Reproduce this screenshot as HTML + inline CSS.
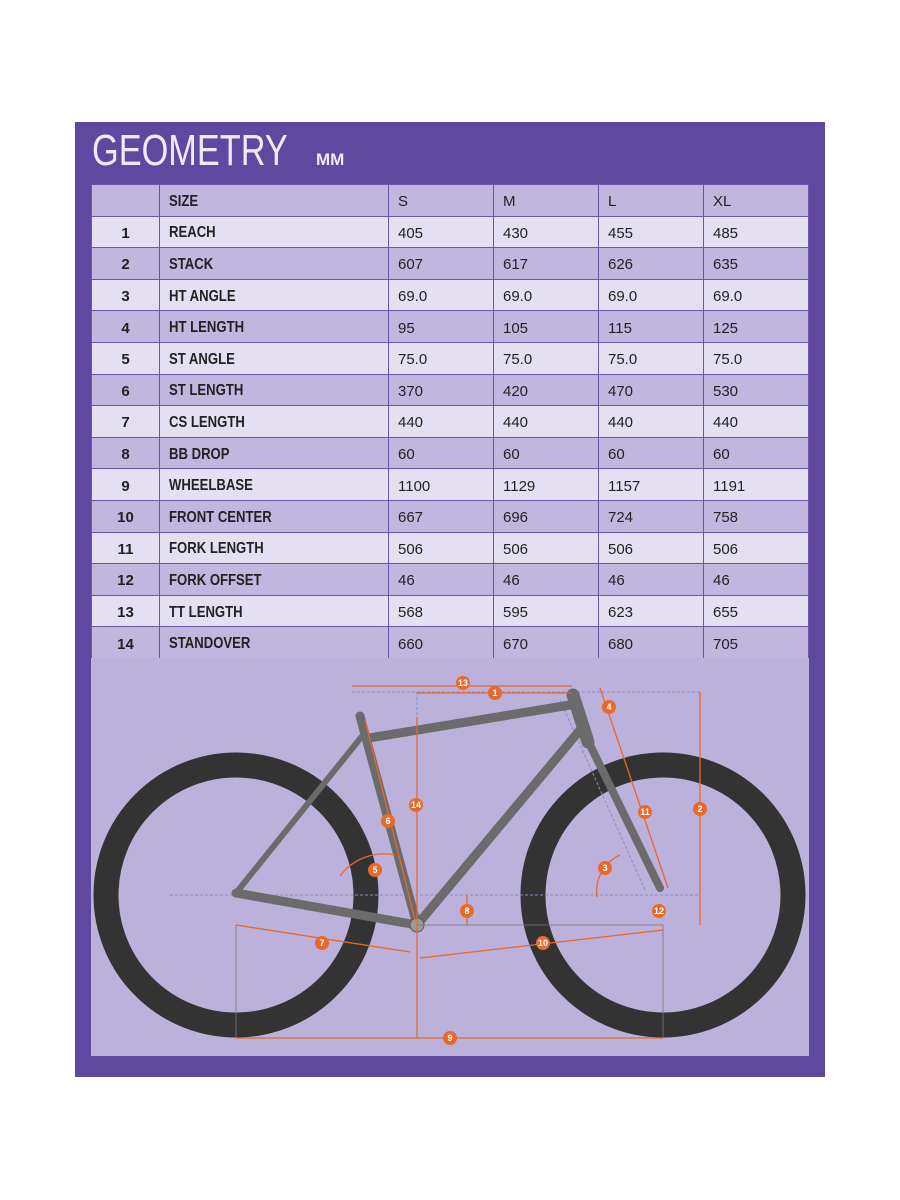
<!DOCTYPE html>
<html><head><meta charset="utf-8"><style>
body{margin:0;background:#fff;width:900px;height:1200px;position:relative;font-family:"Liberation Sans",sans-serif}
#panel{position:absolute;left:75px;top:122px;width:750px;height:955px;background:#5f49a0}
#title{position:absolute;left:92px;top:126px;color:#eee9f7;font-size:44px;transform:scaleX(0.78);transform-origin:0 0;font-weight:normal}
#mm{position:absolute;left:316px;top:150px;color:#eee9f7;font-size:17px;font-weight:bold}
table{position:absolute;left:91px;top:184px;width:718px;border-collapse:collapse;font-size:15px;color:#222}
td{height:31.6px;border:1px solid #6a55ab;padding:3px 0 0 9px;vertical-align:middle;box-sizing:border-box}
tr:nth-child(odd) td{background:#c1b6dd}
tr:nth-child(even) td{background:#e4e0f1}
td.n{text-align:center;padding:3px 0 0 0;font-weight:bold;width:68px}
td.l{font-weight:bold;width:229px;font-size:16px}
td.l span{display:inline-block;transform:scaleX(0.82);transform-origin:0 50%}
td.v{width:105px}
svg{position:absolute;left:91px;top:658px}
</style></head><body>
<div id="panel"></div>
<div id="title">GEOMETRY</div><div id="mm">MM</div>
<table>
<tr><td class="n"></td><td class="l"><span>SIZE</span></td><td class="v">S</td><td class="v">M</td><td class="v">L</td><td class="v">XL</td></tr>
<tr><td class="n">1</td><td class="l"><span>REACH</span></td><td>405</td><td>430</td><td>455</td><td>485</td></tr>
<tr><td class="n">2</td><td class="l"><span>STACK</span></td><td>607</td><td>617</td><td>626</td><td>635</td></tr>
<tr><td class="n">3</td><td class="l"><span>HT ANGLE</span></td><td>69.0</td><td>69.0</td><td>69.0</td><td>69.0</td></tr>
<tr><td class="n">4</td><td class="l"><span>HT LENGTH</span></td><td>95</td><td>105</td><td>115</td><td>125</td></tr>
<tr><td class="n">5</td><td class="l"><span>ST ANGLE</span></td><td>75.0</td><td>75.0</td><td>75.0</td><td>75.0</td></tr>
<tr><td class="n">6</td><td class="l"><span>ST LENGTH</span></td><td>370</td><td>420</td><td>470</td><td>530</td></tr>
<tr><td class="n">7</td><td class="l"><span>CS LENGTH</span></td><td>440</td><td>440</td><td>440</td><td>440</td></tr>
<tr><td class="n">8</td><td class="l"><span>BB DROP</span></td><td>60</td><td>60</td><td>60</td><td>60</td></tr>
<tr><td class="n">9</td><td class="l"><span>WHEELBASE</span></td><td>1100</td><td>1129</td><td>1157</td><td>1191</td></tr>
<tr><td class="n">10</td><td class="l"><span>FRONT CENTER</span></td><td>667</td><td>696</td><td>724</td><td>758</td></tr>
<tr><td class="n">11</td><td class="l"><span>FORK LENGTH</span></td><td>506</td><td>506</td><td>506</td><td>506</td></tr>
<tr><td class="n">12</td><td class="l"><span>FORK OFFSET</span></td><td>46</td><td>46</td><td>46</td><td>46</td></tr>
<tr><td class="n">13</td><td class="l"><span>TT LENGTH</span></td><td>568</td><td>595</td><td>623</td><td>655</td></tr>
<tr><td class="n">14</td><td class="l"><span>STANDOVER</span></td><td>660</td><td>670</td><td>680</td><td>705</td></tr>
</table>
<svg width="718" height="398" viewBox="91 658 718 398">
<rect x="91" y="658" width="718" height="398" fill="#bcb1da"/>
<g fill="none" stroke="#333" stroke-width="25">
<circle cx="236" cy="895" r="130"/><circle cx="663" cy="895" r="130"/>
</g>
<g stroke="#7f8fc0" stroke-width="1" stroke-dasharray="3,2" fill="none">
<line x1="170" y1="895" x2="700" y2="895"/><line x1="352" y1="692" x2="700" y2="692"/>
<line x1="417" y1="692" x2="417" y2="925"/><line x1="560" y1="700" x2="645" y2="890"/>
</g>
<g stroke="#6b6b6b" stroke-linecap="round" fill="none">
<line x1="236" y1="893" x2="417" y2="925" stroke-width="9"/>
<line x1="236" y1="893" x2="363" y2="735" stroke-width="6"/>
<line x1="360" y1="716" x2="417" y2="925" stroke-width="9"/>
<line x1="369" y1="738" x2="570" y2="705" stroke-width="9"/>
<line x1="417" y1="925" x2="580" y2="730" stroke-width="9"/>
<line x1="573" y1="695" x2="588" y2="742" stroke-width="13"/>
<line x1="590" y1="745" x2="660" y2="888" stroke-width="8"/>
</g>
<circle cx="417" cy="925" r="7" fill="#999" stroke="#555"/>
<g stroke="#e8692a" stroke-width="1.3" fill="none">
<line x1="352" y1="686" x2="572" y2="686"/><line x1="417" y1="693" x2="572" y2="693"/>
<line x1="700" y1="692" x2="700" y2="925"/><line x1="417" y1="717" x2="417" y2="1038"/>
<line x1="365" y1="720" x2="415" y2="920"/><line x1="600" y1="688" x2="668" y2="888"/>
<line x1="236" y1="925" x2="410" y2="952"/><line x1="420" y1="958" x2="663" y2="930"/>
<line x1="236" y1="1038" x2="663" y2="1038"/><line x1="467" y1="895" x2="467" y2="925"/>
<path d="M340 876 A55 55 0 0 1 395 855"/><path d="M597 897 A40 40 0 0 1 620 855"/>
</g>
<g stroke="#777" stroke-width="0.8"><line x1="236" y1="925" x2="236" y2="1038"/><line x1="663" y1="925" x2="663" y2="1038"/><line x1="417" y1="925" x2="663" y2="925"/></g>
<g fill="#e8692a" font-family="Liberation Sans" font-size="9" font-weight="bold" text-anchor="middle">
<g><circle cx="463" cy="683" r="7"/><circle cx="495" cy="693" r="7"/><circle cx="609" cy="707" r="7"/><circle cx="700" cy="809" r="7"/><circle cx="645" cy="812" r="7"/><circle cx="416" cy="805" r="7"/><circle cx="388" cy="821" r="7"/><circle cx="375" cy="870" r="7"/><circle cx="605" cy="868" r="7"/><circle cx="467" cy="911" r="7"/><circle cx="659" cy="911" r="7"/><circle cx="322" cy="943" r="7"/><circle cx="543" cy="943" r="7"/><circle cx="450" cy="1038" r="7"/></g>
<g fill="#fff"><text x="463" y="686">13</text><text x="495" y="696">1</text><text x="609" y="710">4</text><text x="700" y="812">2</text><text x="645" y="815">11</text><text x="416" y="808">14</text><text x="388" y="824">6</text><text x="375" y="873">5</text><text x="605" y="871">3</text><text x="467" y="914">8</text><text x="659" y="914">12</text><text x="322" y="946">7</text><text x="543" y="946">10</text><text x="450" y="1041">9</text></g>
</g>
</svg>
</body></html>
